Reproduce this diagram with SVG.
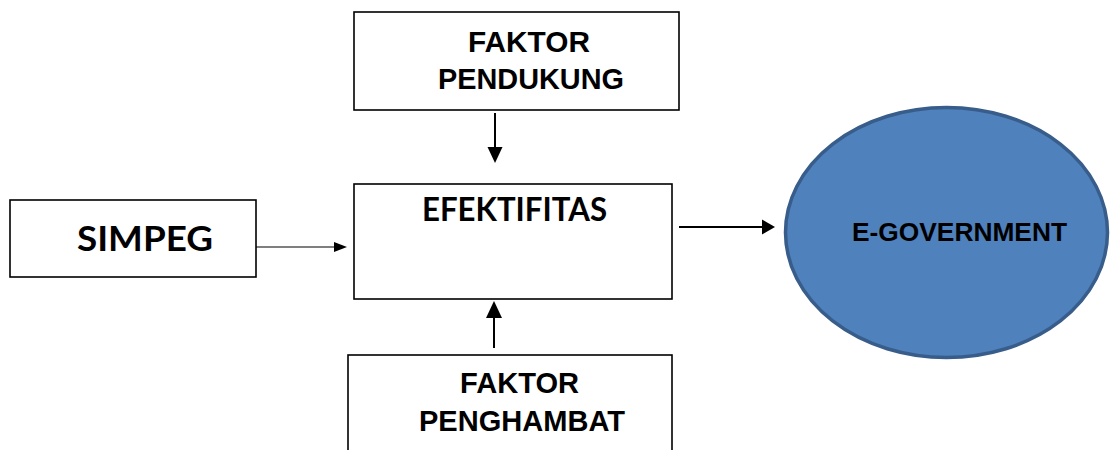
<svg xmlns="http://www.w3.org/2000/svg" width="1115" height="450" viewBox="0 0 1115 450">
<style>
.box{fill:#fff;stroke:#000;stroke-width:1.6}
.ar{font-family:"Liberation Sans",Arial,sans-serif;font-weight:bold;font-size:30px;fill:#000;text-anchor:middle}
.cal{font-family:Lato,"Open Sans",sans-serif;font-weight:bold;fill:#000;text-anchor:middle}
.ln{stroke:#000;fill:none}
.hd{fill:#000}
</style>
<rect width="1115" height="450" fill="#fff"/>
<g id="pendukung">
<rect class="box" x="354" y="12" width="325" height="98"/>
<text class="ar" x="529" y="52" textLength="122" lengthAdjust="spacingAndGlyphs">FAKTOR</text>
<text class="ar" x="531" y="89" textLength="186" lengthAdjust="spacingAndGlyphs">PENDUKUNG</text>
</g>
<g id="simpeg">
<rect class="box" x="10" y="200" width="246" height="77"/>
<text class="cal" x="145" y="251" font-size="34" textLength="136" lengthAdjust="spacingAndGlyphs">SIMPEG</text>
</g>
<g id="efektifitas">
<rect class="box" x="354" y="184" width="318" height="115"/>
<text class="cal" x="514.5" y="221" font-size="32" textLength="185" lengthAdjust="spacingAndGlyphs">EFEKTIFITAS</text>
</g>
<g id="penghambat">
<rect class="box" x="348" y="355" width="324" height="110"/>
<text class="ar" x="519.5" y="393" textLength="119" lengthAdjust="spacingAndGlyphs">FAKTOR</text>
<text class="ar" x="522" y="431" textLength="206" lengthAdjust="spacingAndGlyphs">PENGHAMBAT</text>
</g>
<g id="egovernment">
<ellipse cx="946.5" cy="232.5" rx="161" ry="125" fill="#4F81BD" stroke="#385D8A" stroke-width="3.5"/>
<text class="ar" x="959.5" y="241" style="font-size:26.5px" textLength="215" lengthAdjust="spacingAndGlyphs">E-GOVERNMENT</text>
</g>
<g id="connectors">
<line class="ln" x1="495" y1="113" x2="495" y2="149" stroke-width="2"/>
<polygon class="hd" points="487.5,147 502.5,147 495,163"/>
<line class="ln" x1="494" y1="348" x2="494" y2="316" stroke-width="2"/>
<polygon class="hd" points="486,318 502,318 494,301"/>
<line class="ln" x1="679" y1="227" x2="764" y2="227" stroke-width="2"/>
<polygon class="hd" points="762,219.5 775,227 762,234.5"/>
<line class="ln" x1="256" y1="247" x2="336" y2="247" stroke-width="1.2"/>
<polygon class="hd" points="334,242 347,247 334,252"/>
</g>
</svg>
